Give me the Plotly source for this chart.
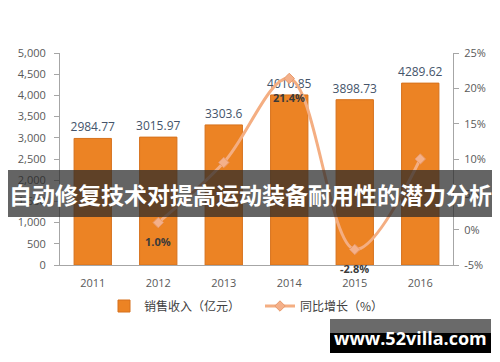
import plotly.graph_objects as go

years = ["2011", "2012", "2013", "2014", "2015", "2016"]
revenue = [2984.77, 3015.97, 3303.6, 4010.85, 3898.73, 4289.62]
revenue_labels = ["2984.77", "3015.97", "3303.6", "4010.85", "3898.73", "4289.62"]
growth_years = ["2012", "2013", "2014", "2015", "2016"]
growth = [1.0, 9.5, 21.4, -2.8, 10.0]
growth_labels = ["1.0%", "", "21.4%", "-2.8%", ""]
y2_ticks = [-5, 0, 5, 10, 15, 20, 25]
y2_ticktext = ["-5%", "0%", "5%", "10%", "15%", "20%", "25%"]
title = "自动修复技术对提高运动装备耐用性的潜力分析"
site = "www.52villa.com"

L, R, T, B = 60, 453, 53, 265
def px(x):
    return (x - L) / (R - L)
def py(y):
    return (B - y) / (B - T)

fig = go.Figure()
fig.add_trace(go.Bar(
    x=years, y=revenue, name="销售收入（亿元）",
    marker=dict(color="#EC8324", line=dict(color="#D6711C", width=1)),
    width=0.57,
    text=revenue_labels, textposition="outside", cliponaxis=False, constraintext="none",
    textfont=dict(family="Open Sans", size=12, color="#44546A"),
    hoverinfo="skip",
))
fig.add_trace(go.Scatter(
    x=growth_years, y=growth, name="同比增长（%）", yaxis="y2",
    mode="lines+markers", line=dict(color="#F4AE82", width=3, shape="spline", smoothing=1.0),
    marker=dict(symbol="diamond", size=8, color="#F4B08A", line=dict(color="#E89A6C", width=1)),
    hoverinfo="skip",
))
for gx, gy, gl in zip(growth_years, growth, growth_labels):
    if gl:
        fig.add_annotation(x=years.index(gx), y=gy, xref="x", yref="y2", text="<b>" + gl + "</b>",
                           showarrow=False, yshift=-19, xanchor="center", yanchor="middle",
                           font=dict(family="Open Sans", size=11, color="#3A3A3A"))

fig.add_shape(type="rect", xref="paper", yref="paper", x0=px(8), x1=px(492), y0=py(217), y1=py(170),
              fillcolor="rgba(40,40,40,0.72)", line=dict(width=0), layer="above")
fig.add_annotation(xref="paper", yref="paper", x=px(250), y=py(194), text="<b>" + title + "</b>",
                   showarrow=False, xanchor="center", yanchor="middle",
                   font=dict(family="Noto Sans CJK SC", size=23, color="white"))
fig.add_shape(type="rect", xref="paper", yref="paper", x0=px(330), x1=px(491), y0=py(333), y1=py(319),
              fillcolor="#6a6a6a", line=dict(width=0), layer="above")
fig.add_shape(type="rect", xref="paper", yref="paper", x0=px(330), x1=px(491), y0=py(353), y1=py(333),
              fillcolor="#000000", line=dict(width=0), layer="above")
fig.add_annotation(xref="paper", yref="paper", x=px(410), y=py(338), text="<b>" + site + "</b>",
                   showarrow=False, xanchor="center", yanchor="middle",
                   font=dict(family="Open Sans", size=18, color="white"))

axis_font = dict(family="Open Sans", size=11, color="#595959")
fig.update_layout(
    width=500, height=362, margin=dict(l=L, r=500 - R, t=T, b=362 - B),
    paper_bgcolor="white", plot_bgcolor="white", hovermode=False,
    xaxis=dict(type="category", range=[-0.5, 5.5], autorange=False, showline=True, linecolor="#A6A6A6",
               ticks="", tickfont=axis_font, showgrid=False, automargin=False, ticklabelstandoff=8),
    yaxis=dict(range=[0, 5000], autorange=False, dtick=500, tickformat=",", showline=True,
               linecolor="#A6A6A6", ticks="outside", ticklen=5, tickcolor="#A6A6A6", tickfont=axis_font,
               showgrid=False, zeroline=False, automargin=False, ticklabelstandoff=6),
    yaxis2=dict(overlaying="y", side="right", range=[-5, 25], autorange=False, tickvals=y2_ticks,
                ticktext=y2_ticktext, showline=True, linecolor="#A6A6A6", ticks="outside", ticklen=5,
                tickcolor="#A6A6A6", tickfont=axis_font, showgrid=False, zeroline=False, automargin=False,
                ticklabelstandoff=3),
    legend=dict(orientation="h", x=px(104), xanchor="left", y=py(306), yanchor="middle",
                bgcolor="rgba(0,0,0,0)",
                font=dict(family="Noto Sans CJK SC", size=12, color="#404040"),
                entrywidth=111, entrywidthmode="pixels"),
    showlegend=True,
)
fig.write_html("out.html", config={"displayModeBar": False},
               post_script="document.body.style.margin='0px';document.body.style.overflow='hidden';")
